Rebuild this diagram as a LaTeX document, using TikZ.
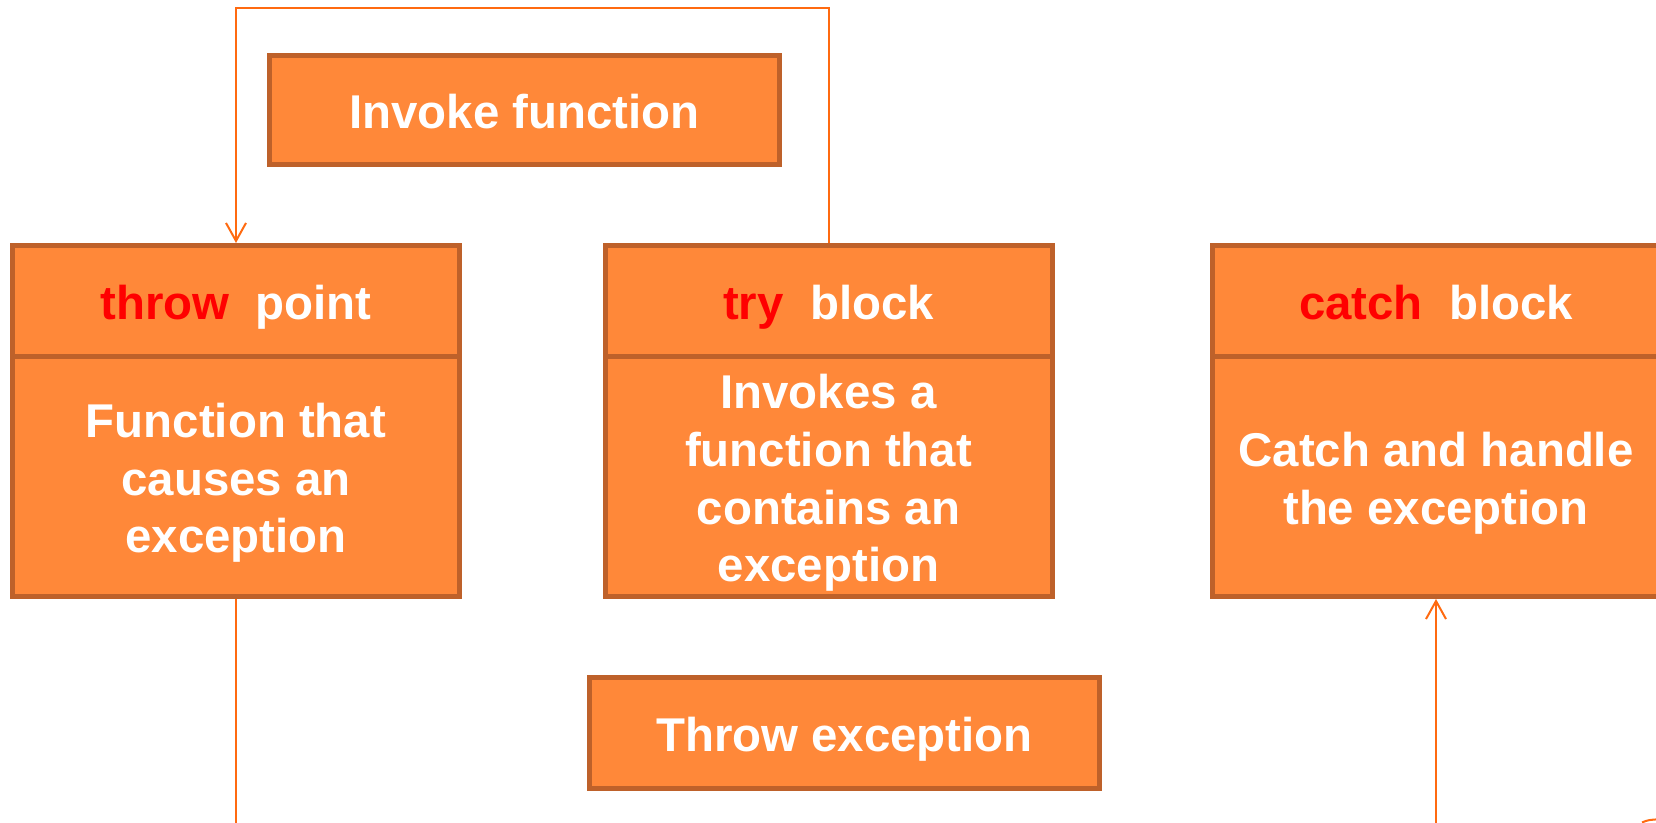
\documentclass[tikz,border=0pt]{standalone}
\usepackage{fontspec}
\setmainfont{Liberation Sans}
\usetikzlibrary{arrows.meta}
\definecolor{boxfill}{HTML}{FF8839}
\definecolor{boxedge}{HTML}{BE612A}
\definecolor{wire}{HTML}{FF6A10}
\definecolor{keyword}{HTML}{FF0000}
\begin{document}
\begin{tikzpicture}[x=0.5pt,y=-0.5pt,
  cell/.style={draw=boxedge, fill=boxfill, line width=2.5pt,
    minimum width=223.5pt, inner sep=0pt, text=white,
    font=\fontsize{23.7pt}{28.8pt}\selectfont\bfseries,
    align=center, text height=18.5pt, text depth=0pt},
  wide/.style={minimum width=255pt},
  titlecell/.style={minimum height=55.75pt},
  bodycell/.style={minimum height=119.75pt},
  link/.style={draw=wire, line width=1pt},
  tip/.style={-{Straight Barb[length=9pt,width=10pt]}}]
\useasboundingbox (0,0) rectangle (1656,823);
\clip (0,0) rectangle (1656,823);

% single boxes
\node[cell, wide, minimum height=54.5pt] (invoke) at (524.5,110) {Invoke function};
\node[cell, wide, minimum height=55.5pt] (throwex) at (844.5,733) {Throw exception};

% throw point
\node[cell, titlecell] (throwT) at (236,301.25)
  {{\color{keyword}throw}~~point};
\node[cell, bodycell, text height=76.1pt] (throwB) at (236,476.75)
  {Function that\\causes an\\exception};

% try block
\node[cell, titlecell] (tryT) at (828.5,301.25)
  {{\color{keyword}try}~~block};
\node[cell, bodycell, text height=104.9pt] (tryB) at (828.5,476.75)
  {Invokes a\\function that\\contains an\\exception};

% catch block
\node[cell, titlecell] (catchT) at (1436,301.25)
  {{\color{keyword}catch}~~block};
\node[cell, bodycell, text height=47.3pt] (catchB) at (1436,476.75)
  {Catch and handle\\the exception};

% connectors
\coordinate (above) at (0,8.5);
\coordinate (below) at (0,870);
\draw[link, tip] (tryT.north) -- (tryT.north |- above) -| (throwT.north);
\draw[link, tip] (throwB.south) -- (throwB.south |- below) -| (catchB.south);
\draw[link] (1642,822.5) .. controls (1648,820) .. (1662,819);
\end{tikzpicture}
\end{document}
